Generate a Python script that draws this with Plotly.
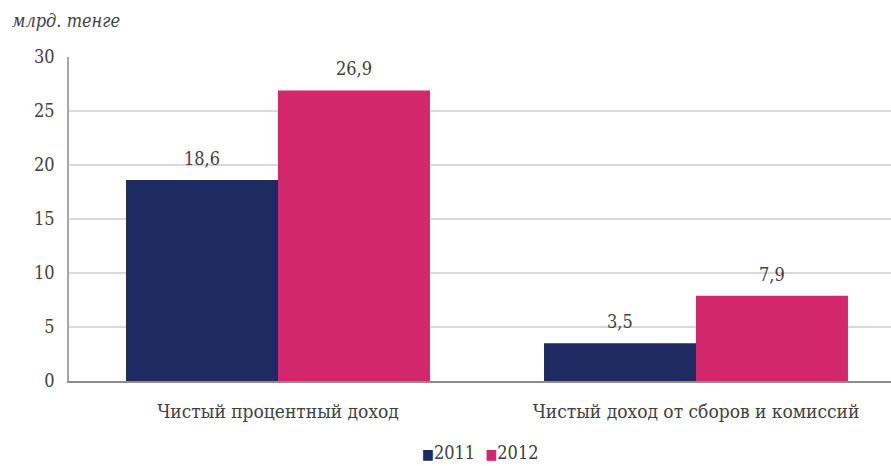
import plotly.graph_objects as go

categories = ["Чистый процентный доход", "Чистый доход от сборов и комиссий"]
years = ["2011", "2012"]
values_2011 = [18.6, 3.5]
values_2012 = [26.9, 7.9]
y_ticks = [0, 5, 10, 15, 20, 25, 30]

colors = {"2011": "#1f2a63", "2012": "#d2286b"}
series = {"2011": values_2011, "2012": values_2012}

FONT = "DejaVu Serif Condensed, DejaVu Serif"
TEXT = "#404040"
bar_w = 0.3636
offsets = {"2011": -bar_w, "2012": 0.0}

x_pos = list(range(len(categories)))

W, H = 891, 466
L, R, T, B = 69, 0, 57, 85
pw, ph = W - L - R, H - T - B

fig = go.Figure()
annotations = []
for yr in years:
    fig.add_trace(go.Bar(
        x=x_pos,
        y=series[yr],
        name=yr,
        width=bar_w,
        offset=offsets[yr],
        marker=dict(color=colors[yr], line=dict(width=0)),
        showlegend=False,
    ))
    for xi, v in zip(x_pos, series[yr]):
        annotations.append(dict(
            x=xi + offsets[yr] + bar_w / 2, y=v, xref="x", yref="y",
            text=f"{v:.1f}".replace(".", ","),
            showarrow=False, yanchor="bottom", yshift=9,
            font=dict(family=FONT, size=18, color=TEXT),
        ))

# unit label above the value axis
annotations.append(dict(
    x=(10 - L) / pw, y=(H - B - 21) / ph, xref="paper", yref="paper",
    text="<i>млрд. тенге</i>",
    showarrow=False, xanchor="left", yanchor="middle",
    font=dict(family=FONT, size=18, color=TEXT),
))

# compact legend: coloured square glyph directly followed by the series name
legend_text = "\u00a0\u00a0".join(
    f"<span style='color:{colors[yr]};font-size:14px'>■</span>{yr}" for yr in years
)
annotations.append(dict(
    x=0.5, y=(H - B - 452) / ph, xref="paper", yref="paper",
    text=legend_text, showarrow=False, xanchor="center", yanchor="middle",
    font=dict(family=FONT, size=18, color=TEXT),
))

fig.update_layout(
    width=W, height=H,
    margin=dict(l=L, r=R, t=T, b=B, pad=0),
    paper_bgcolor="white", plot_bgcolor="white",
    barmode="overlay",
    showlegend=False,
    font=dict(family=FONT, color=TEXT),
    annotations=annotations,
    xaxis=dict(
        tickvals=x_pos, ticktext=categories,
        range=[-0.5, 1.5 - 14 / 418],
        showgrid=False, zeroline=False,
        showline=True, linecolor="#8c8c8c", linewidth=2,
        ticks="", ticklabelstandoff=12,
        tickfont=dict(family=FONT, size=19, color=TEXT),
        fixedrange=True,
    ),
    yaxis=dict(
        range=[0, 30], tickvals=y_ticks,
        showgrid=True, gridcolor="#d9d9d9", gridwidth=1.5,
        zeroline=False,
        showline=True, linecolor="#a6a6a6", linewidth=1.5,
        ticks="", ticklabelstandoff=9,
        tickfont=dict(family=FONT, size=18, color=TEXT),
        fixedrange=True,
    ),
)

fig.write_html("out.html")
